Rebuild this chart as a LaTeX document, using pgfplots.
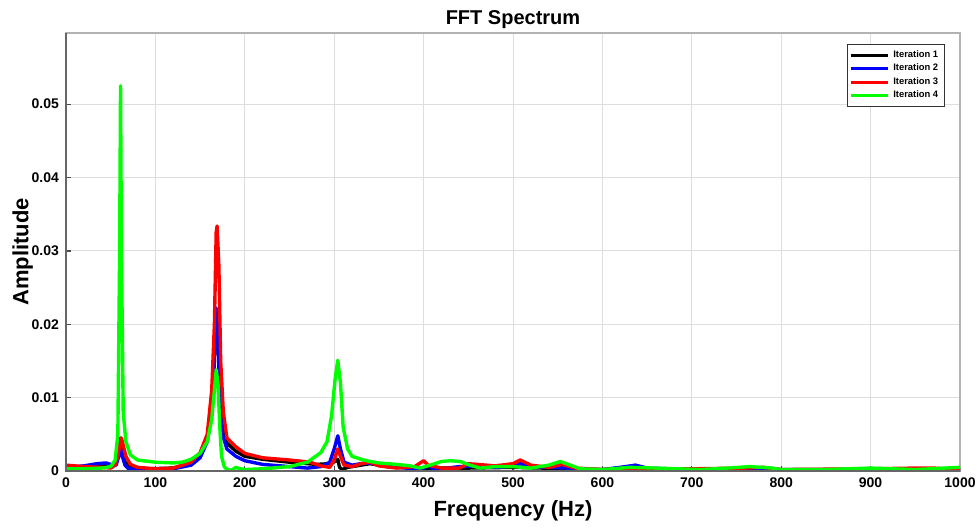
\documentclass[border=0pt]{standalone}
\usepackage{fontspec}
\setmainfont{Liberation Sans}
\usepackage{pgfplots}
\pgfplotsset{compat=1.18}

% one reference pixel = 0.5pt
\pgfplotstableread{
f a
0 0.0005
30 0.0006
45 0.0008
55 0.0008
59 0.0025
61 0.0045
63 0.0030
66 0.0012
72 0.0005
90 0.0003
120 0.0004
140 0.0010
150 0.0020
158 0.0045
163 0.0090
166 0.0160
168 0.0210
170 0.0180
172 0.0100
175 0.0060
180 0.0038
190 0.0027
200 0.0020
220 0.0016
250 0.0012
280 0.0009
295 0.0010
301 0.0013
304 0.0016
306 0.0005
309 0.0002
315 0.0005
330 0.0008
340 0.0010
360 0.0006
400 0.0004
450 0.0004
500 0.0005
600 0.0002
640 0.0003
700 0.0002
770 0.0003
800 0.0001
1000 0.0001
}\iterA

\pgfplotstableread{
f a
0 0.0005
20 0.0007
35 0.0010
45 0.0011
52 0.0008
56 0.0008
59 0.0020
61 0.0030
63 0.0020
66 0.0008
70 0.0003
80 0.0002
100 0.0002
120 0.0003
140 0.0008
150 0.0018
158 0.0040
163 0.0080
166 0.0150
168 0.0222
170 0.0190
172 0.0110
175 0.0050
180 0.0030
190 0.0020
200 0.0014
220 0.0009
250 0.0006
270 0.0004
285 0.0006
295 0.0012
300 0.0030
304 0.0048
307 0.0030
311 0.0012
320 0.0008
330 0.0010
340 0.0011
360 0.0006
380 0.0004
400 0.0004
405 0.0008
410 0.0003
420 0.0003
440 0.0006
460 0.0007
480 0.0005
500 0.0007
508 0.0010
520 0.0006
560 0.0004
580 0.0002
600 0.0002
620 0.0005
637 0.0008
650 0.0004
700 0.0002
760 0.0002
800 0.0002
900 0.0002
1000 0.0001
}\iterB

\pgfplotstableread{
f a
0 0.0008
20 0.0006
40 0.0005
50 0.0004
55 0.0008
58 0.0020
60 0.0035
62 0.0045
64 0.0035
67 0.0020
72 0.0009
80 0.0005
100 0.0003
120 0.0004
140 0.0012
150 0.0025
158 0.0050
163 0.0110
166 0.0200
168 0.0325
169 0.0334
171 0.0280
173 0.0150
176 0.0080
180 0.0045
190 0.0033
200 0.0024
220 0.0018
250 0.0015
273 0.0012
285 0.0007
295 0.0005
300 0.0015
304 0.0030
307 0.0020
311 0.0008
320 0.0006
330 0.0010
340 0.0012
350 0.0007
370 0.0004
390 0.0006
400 0.0014
405 0.0008
420 0.0004
440 0.0004
450 0.0010
460 0.0009
480 0.0007
500 0.0010
508 0.0015
520 0.0008
540 0.0005
555 0.0009
570 0.0004
600 0.0002
640 0.0003
700 0.0003
760 0.0004
780 0.0005
800 0.0002
900 0.0003
950 0.0004
970 0.0004
1000 0.0002
}\iterC

\pgfplotstableread{
f a
0 0.0003
20 0.0003
40 0.0004
50 0.0006
55 0.0015
58 0.0050
60 0.0300
61 0.0525
62 0.0300
64 0.0080
67 0.0040
72 0.0022
80 0.0015
100 0.0012
120 0.0011
130 0.0012
140 0.0016
150 0.0024
158 0.0040
163 0.0070
166 0.0110
168 0.0138
170 0.0120
172 0.0060
174 0.0020
177 0.0006
180 0.0002
185 0.0001
190 0.0005
195 0.0003
200 0.0002
220 0.0003
250 0.0006
270 0.0012
285 0.0025
292 0.0040
297 0.0075
301 0.0125
304 0.0151
307 0.0120
310 0.0060
315 0.0030
320 0.0020
330 0.0016
340 0.0013
350 0.0011
370 0.0009
385 0.0007
396 0.0004
410 0.0009
420 0.0013
430 0.0014
441 0.0013
452 0.0008
463 0.0004
480 0.0006
500 0.0006
520 0.0004
540 0.0008
553 0.0013
562 0.0009
575 0.0003
600 0.0002
631 0.0005
660 0.0004
709 0.0002
740 0.0004
765 0.0006
790 0.0004
800 0.0002
850 0.0002
900 0.0004
950 0.0002
1000 0.0005
}\iterD

\begin{document}
\begin{tikzpicture}
\begin{axis}[
  at={(0,0)}, anchor=south west,
  scale only axis,
  width=447pt, height=219pt,
  xmin=0, xmax=1000,
  ymin=0, ymax=0.0597,
  xtick={0,100,...,1000},
  xticklabels={0,100,200,300,400,500,600,700,800,900,1000},
  ytick={0,0.01,0.02,0.03,0.04,0.05},
  yticklabels={0,0.01,0.02,0.03,0.04,0.05},
  scaled y ticks=false,
  xtick pos=left, ytick pos=left,
  tick align=inside,
  major tick length=2.5pt,
  tick style={draw=black!70, line width=0.6pt},
  axis line style={draw=black!30, line width=0.6pt},
  grid=major,
  grid style={draw=black!13, line width=0.5pt},
  tick label style={font=\bfseries\fontsize{7}{8}\selectfont},
  title={FFT Spectrum},
  every axis title shift=0pt,
  title style={font=\bfseries\fontsize{10}{12}\selectfont, at={(0.5,1)},
    anchor=base, inner sep=0pt, yshift=4.5pt},
  xlabel={Frequency (Hz)},
  ylabel={Amplitude},
  label style={font=\bfseries\fontsize{11}{13}\selectfont},
  xlabel style={at={(0.5,0)}, anchor=north, yshift=-11pt},
  ylabel style={at={(0,0.5)}, anchor=south, yshift=13pt},
  legend style={at={(0.983,0.975)}, anchor=north east,
    font=\bfseries\fontsize{4.7}{5.5}\selectfont, draw=black!80, line width=0.6pt,
    inner sep=1pt, row sep=-2.2pt},
  legend cell align=left,
  legend image code/.code={\draw[#1, line width=1.5pt] (0pt,0pt) -- (18.5pt,0pt);},
  every axis plot/.append style={line width=1.7pt, line join=round},
  clip mode=individual,
]
\addplot[color=black] table[x=f, y=a] {\iterA};
\addplot[color=blue] table[x=f, y=a] {\iterB};
\addplot[color=red] table[x=f, y=a] {\iterC};
\addplot[color=green] table[x=f, y=a] {\iterD};
\legend{Iteration 1, Iteration 2, Iteration 3, Iteration 4}
\draw[black!60, line width=1pt] (rel axis cs:0,1) -- (rel axis cs:0,0) -- (rel axis cs:1,0);
\end{axis}
\pgfresetboundingbox
\useasboundingbox (-33pt,-28pt) rectangle (456.5pt,235.5pt);
\end{tikzpicture}
\end{document}
